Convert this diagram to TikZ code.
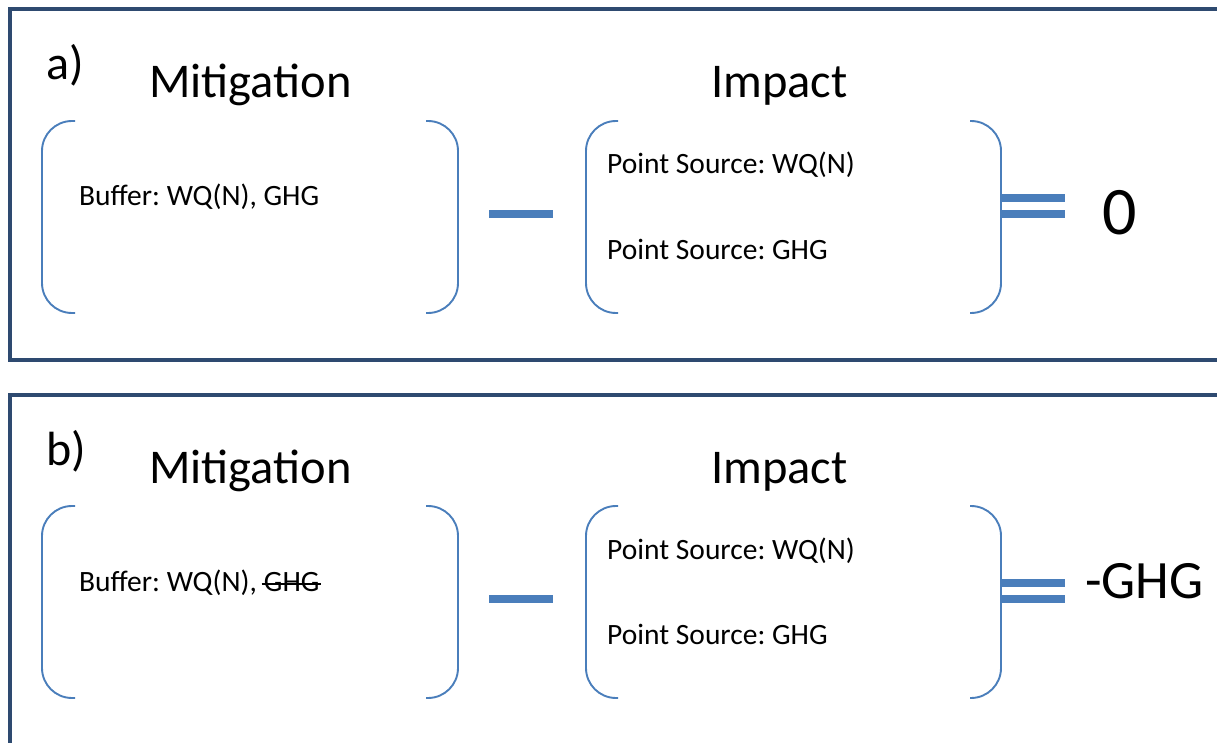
\documentclass[tikz,border=0pt]{standalone}
\usepackage{fontspec}
\setmainfont{Carlito}
\usetikzlibrary{calc}
\frenchspacing
\definecolor{framenavy}{RGB}{46,74,112}
\definecolor{officeblue}{RGB}{74,126,187}
\tikzset{
  panel/.style={draw=framenavy,line width=4pt},
  brace/.style={draw=officeblue,line width=1.9pt,rounded corners=30pt},
  bar/.style={fill=officeblue},
  txt/.style={anchor=base west,inner sep=0pt},
  head/.style={txt,font=\fontsize{48.5}{52}\selectfont},
  entry/.style={txt,font=\fontsize{29.5}{32}\selectfont}
}
\begin{document}
\begin{tikzpicture}[x=1pt,y=-1pt]
        \useasboundingbox (0,0) rectangle (1217,743);
        \clip (0,0) rectangle (1217,743);
        \foreach \dy/\lab in {0/a,385/b}{
          \draw[panel] (9.5,9.5+\dy) rectangle (1240,360+\dy);
          \node[txt,font=\fontsize{48}{52}\selectfont] (tag-\lab) at (46,80+\dy) {\lab)};
          \node[head] (mit-\lab) at (149,98+\dy) {Mitigation};
          \node[head] (imp-\lab) at (711,98+\dy) {Impact};
          % brackets
          \draw[brace] (75,121+\dy)--(42,121+\dy)--(42,313+\dy)--(75,313+\dy);
          \draw[brace] (426,121+\dy)--(458,121+\dy)--(458,313+\dy)--(426,313+\dy);
          \draw[brace] (618,121+\dy)--(586,121+\dy)--(586,313+\dy)--(618,313+\dy);
          \draw[brace] (970,121+\dy)--(1001,121+\dy)--(1001,313+\dy)--(970,313+\dy);
          \node[entry] (wq-\lab) at (607,174+\dy) {Point Source: WQ(N)};
          \node[entry] (ps-\lab) at (607,259+\dy) {Point Source: GHG};
          % minus and equals
          \fill[bar] (489,210+\dy) rectangle (553,218+\dy);
          \fill[bar] (1002,194+\dy) rectangle (1065,202+\dy);
          \fill[bar] (1002,210+\dy) rectangle (1065,218+\dy);
        }
        \node[entry] (buf-a) at (79,206) {Buffer: WQ(N), GHG};
        \node[entry] (buf-b) at (79,591) {Buffer: WQ(N),\ \null};
        \node[entry] (ghg-b) at (buf-b.base east) {GHG};
        \draw[line width=1.8pt] ($(ghg-b.base west)+(-2,-7)$) -- ($(ghg-b.base east)+(1,-7)$);
        \node[txt,font=\fontsize{68}{72}\selectfont] (res-a) at (1102,235) {0};
        \node[txt,font=\fontsize{54}{58}\selectfont] (res-b) at (1085,598) {-GHG};
\end{tikzpicture}
\end{document}
